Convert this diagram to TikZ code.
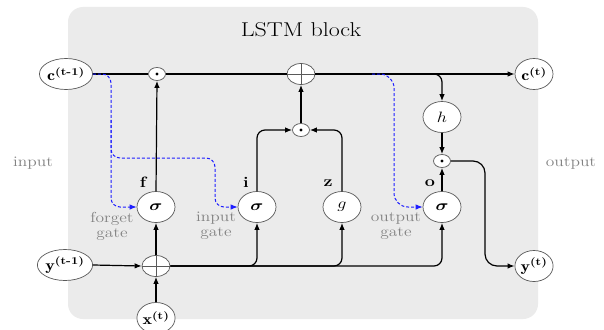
\RequirePackage{fix-cm}
\documentclass[tikz,border=0pt]{standalone}
\usepackage{amsmath}
\usepackage{bm}
\usepackage{fontspec}
\usepackage{graphicx}
\usetikzlibrary{shapes.geometric,arrows.meta}
\definecolor{bgc}{RGB}{235,235,235}
\definecolor{lblc}{RGB}{130,130,130}
\definecolor{gateblue}{RGB}{30,30,255}
\newcommand{\sx}[1]{\scalebox{1.2}[1]{#1}}
\begin{document}
\begin{tikzpicture}[x=1pt,y=-1pt,
  ell/.style={ellipse,draw=black!65,fill=white,line width=0.7pt,minimum width=38pt,minimum height=31pt,inner sep=0pt,font=\fontsize{15}{18}\selectfont},
  opdot/.style={ellipse,draw=black!65,fill=white,line width=0.7pt,minimum width=17pt,minimum height=13pt,inner sep=0pt,
     path picture={\fill[black] (path picture bounding box.center) circle[radius=1.7pt];}},
  opplus/.style={ellipse,draw=black!65,fill=white,line width=0.7pt,minimum width=28pt,minimum height=21pt,inner sep=0pt,
     path picture={\draw[black!65,line width=0.7pt] (path picture bounding box.north) -- (path picture bounding box.south)
       (path picture bounding box.west) -- (path picture bounding box.east);}},
  conn/.style={line width=1.2pt,black,rounded corners=8pt},
  arr/.style={conn,-{Latex[length=7pt,width=5.5pt]}},
  gatearr/.style={line width=1pt,gateblue,dash pattern=on 3pt off 2pt,rounded corners=9pt,-{Latex[length=7pt,width=5.5pt]}},
  lbl/.style={text=lblc,font=\fontsize{14.5}{15}\selectfont,align=center},
  gl/.style={font=\fontsize{15}{18}\selectfont\bfseries}
]
\useasboundingbox (0,0) rectangle (604,329);
\fill[white] (0,0) rectangle (604,329);
\fill[bgc,rounded corners=15pt] (68,7) rectangle (538,319);

\node[font=\fontsize{20}{24}\selectfont] (title) at (301,30) {\sx{LSTM block}};
\node[lbl] (inlbl) at (33,163) {\sx{input}};
\node[lbl] (outlbl) at (571,163) {\sx{output}};

% nodes
\node[ell] (cprev) at (66,74) {\sx{$\mathbf{c}^{\textbf{(t-1)}}$}};
\node[ell] (cnext) at (534,74) {\sx{$\mathbf{c}^{\textbf{(t)}}$}};
\node[ell] (yprev) at (65,265) {\sx{$\mathbf{y}^{\textbf{(t-1)}}$}};
\node[ell] (ynext) at (534,266) {\sx{$\mathbf{y}^{\textbf{(t)}}$}};
\node[ell] (xt) at (156,318) {\sx{$\mathbf{x}^{\textbf{(t)}}$}};

\node[opdot] (dot1) at (157,74) {};
\node[opplus] (plus1) at (301,74) {};
\node[opdot] (dot2) at (301,130) {};
\node[ell] (h) at (442,117) {\sx{$h$}};
\node[opdot] (dot3) at (442,161) {};

\node[ell] (sf) at (156,207) {\sx{$\bm{\sigma}$}};
\node[ell] (si) at (257,207) {\sx{$\bm{\sigma}$}};
\node[ell] (sg) at (342,207) {\sx{$g$}};
\node[ell] (so) at (442,207) {\sx{$\bm{\sigma}$}};
\node[opplus] (plus2) at (156,266) {};

\node[gl] (lf) at (143,182) {\sx{f}};
\node[gl] (li) at (246,182) {\sx{i}};
\node[gl] (lz) at (328,183) {\sx{z}};
\node[gl] (lo) at (430,183) {\sx{o}};

\node[lbl] (fgate) at (112,226) {\sx{forget}\\\sx{gate}};
\node[lbl] (igate) at (216,226) {\sx{input}\\\sx{gate}};
\node[lbl] (ogate) at (396,226) {\sx{output}\\\sx{gate}};

% coordinates
\coordinate (hb) at (432,74);
\coordinate (turn) at (485,210);
\coordinate (fx) at (111,120);
\coordinate (iturn) at (215,158);
\coordinate (ob) at (372,74);
\coordinate (ox) at (394,150);

% top line
\draw[conn] (cprev.east) -- (dot1.west);
\draw[conn] (dot1.east) -- (plus1.west);
\draw[arr] (plus1.east) -- (cnext.west);
\draw[arr] (hb) -| (h.north);
\draw[arr] (h.south) -- (dot3.north);
\draw[arr] (so.north) -- (dot3.south);
\draw[arr,rounded corners=12pt] (dot3.east) -| (turn) |- (ynext.west);

% bottom
\draw[arr] (yprev.east) -- (plus2.west);
\draw[arr] (xt.north) -- (plus2.south);
\draw[arr] (plus2.north) -- (sf.south);
\draw[arr] (sf.north) -- (dot1.south);
\draw[arr] (plus2.east) -| (so.south);
\draw[arr] (plus2.east) -| (si.south);
\draw[arr] (plus2.east) -| (sg.south);

% middle
\draw[arr] (si.north) |- (dot2.west);
\draw[arr] (sg.north) |- (dot2.east);
\draw[arr] (dot2.north) -- (plus1.south);

% peepholes
\draw[gatearr] (cprev.east) -| (fx) |- (sf.west);
\draw[gatearr] (fx) |- (iturn) |- (si.west);
\draw[gatearr,rounded corners=14pt] (ob) -| (ox) |- (so.west);
\end{tikzpicture}
\end{document}
